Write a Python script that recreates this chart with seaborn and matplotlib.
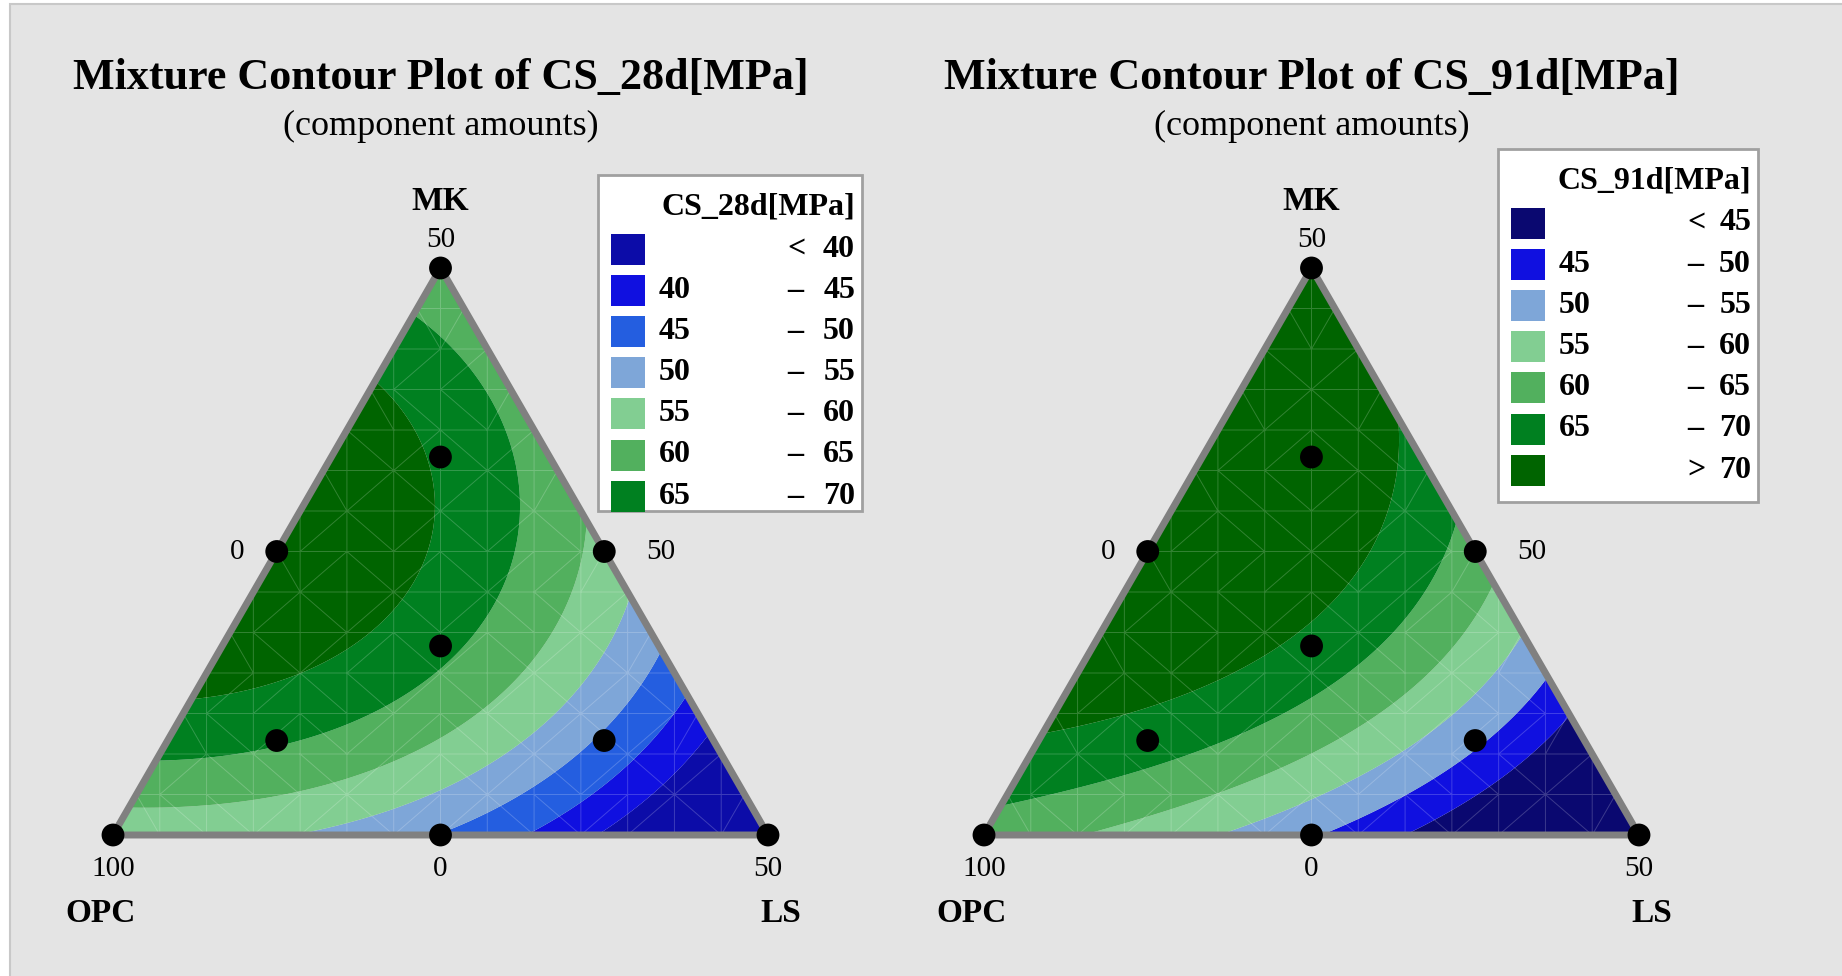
import numpy as np
import pandas as pd
import matplotlib
matplotlib.use("Agg")
import matplotlib.pyplot as plt
import matplotlib.tri as mtri
from matplotlib.patches import Rectangle, Polygon
import seaborn as sns

# design points, component amounts (%)
opc = [100, 50, 50, 75, 75, 50, 66.67, 83.33, 58.33, 58.33]
mk = [0, 50, 0, 25, 0, 25, 16.67, 8.33, 33.33, 8.33]
ls = [0, 0, 50, 0, 25, 25, 16.67, 8.33, 8.33, 33.33]

# responses at the design points
cs_28d = [57.0, 61.5, 24.0, 75.0, 50.3, 58.2, 66.5, 65.0, 69.5, 48.8]
cs_91d = [63.0, 70.6, 25.9, 76.8, 50.2, 62.6, 69.0, 67.9, 74.6, 50.8]

# points read along the contour boundaries (MK %, LS %, level)
iso_mk_28d = [40, 37.95, 33.9, 30.55, 25.85, 21.8, 19.1, 16.1, 14.4, 12.4, 11.55,
              45, 42.65, 39.3, 35.25, 29.9, 25.15, 20.45, 16.1, 12.4, 9.7, 8.25, 7.0, 6.5,
              27.25, 21.15, 17.75, 14.4, 11.05, 8.35, 6.0, 4.3, 3.15, 2.8, 2.6,
              21.15, 17.75, 14.4, 11.05, 8.0, 5.0, 2.3, 0,
              16.4, 13.4, 10.0, 7.0, 3.65, 0,
              12.25, 9.35, 6.0, 3.3, 0,
              9.0, 4.3, 1.6, 0]
iso_ls_28d = [0, 3.2, 7.2, 9.4, 11.6, 12.6, 12.0, 10.15, 7.35, 4.4, 0,
              0, 4.15, 8.15, 12.15, 15.7, 17.55, 18.6, 18.1, 16.0, 12.7, 8.35, 3.8, 0,
              22.75, 24.85, 25.25, 24.6, 23.3, 20.65, 17.55, 13.4, 9.05, 4.25, 0,
              28.85, 29.55, 29.2, 28.25, 26.45, 23.65, 19.4, 14.9,
              33.6, 33.7, 33.05, 31.6, 29.0, 25.5,
              37.75, 37.4, 35.75, 33.8, 32.1,
              41.0, 39.9, 37.95, 37.4]
iso_val_28d = [70] * 11 + [65] * 13 + [60] * 11 + [55] * 8 + [50] * 6 + [45] * 5 + [40] * 4

iso_mk_91d = [3.35, 8.5,
              10.6, 13.85, 17.65, 22.25, 27.75, 36.85,
              0, 0, 0, 0,
              16.67, 18.1]
iso_ls_91d = [0, 0,
              39.4, 36.15, 32.35, 27.75, 22.25, 13.15,
              7.25, 18, 26, 32.3,
              12.8, 15.3]
iso_val_91d = [65, 70, 45, 50, 55, 60, 65, 70, 60, 55, 50, 45, 70, 70]

levels_28d = [40, 45, 50, 55, 60, 65, 70]
levels_91d = [45, 50, 55, 60, 65, 70]
colors_28d = ['#0c0ca8', '#1010e0', '#245ee0', '#7ea6d8', '#82ce92', '#52b05e', '#008020', '#006400']
colors_91d = ['#0a0870', '#1010e0', '#7ea6d8', '#82ce92', '#52b05e', '#008020', '#006400']


def terms(o, m, l):
    # full cubic Scheffe model
    return np.column_stack([o, m, l, o * m, o * l, m * l,
                            o * m * (o - m), o * l * (o - l), m * l * (m - l), o * m * l])


def to_px(m, l, x0, y0, W=655.0, H=567.0):
    return x0 + (l + m / 2) * W, y0 - m * H


sns.set_style("white")
plt.rcParams['font.family'] = ['Liberation Serif', 'DejaVu Serif']
plt.rcParams['text.color'] = 'black'

fig = plt.figure(figsize=(18.42, 9.76), dpi=100, facecolor='white')
ax = fig.add_axes([0, 0, 1, 1])
ax.set_xlim(0, 1842)
ax.set_ylim(976, 0)
ax.axis('off')
ax.add_patch(Rectangle((10, 4), 1840, 980, facecolor='#e4e4e4', edgecolor='#c8c8c8', lw=1.5, zorder=0))

# fine grid inside the simplex
n = 160
gl, gm = [], []
for i in range(n + 1):
    for j in range(n + 1 - i):
        gl.append(i / n)
        gm.append(j / n)
gl = np.array(gl)
gm = np.array(gm)
go = 1 - gl - gm

pm = np.asarray(mk, float) / 50
pl = np.asarray(ls, float) / 50

panels = [
    (113, 835, cs_28d, iso_mk_28d, iso_ls_28d, iso_val_28d, levels_28d, colors_28d, 'CS_28d[MPa]',
     (598, 175, 264, 336), 249.5, 41.1, False),
    (984, 835, cs_91d, iso_mk_91d, iso_ls_91d, iso_val_91d, levels_91d, colors_91d, 'CS_91d[MPa]',
     (1498, 149, 260, 353), 223, 41.2, True),
]

for x0, y0, resp, imk, ils, ival, levels, colors, name, box, row0, dy, show_top in panels:
    om = np.concatenate([pm, np.asarray(imk) / 50])
    ol = np.concatenate([pl, np.asarray(ils) / 50])
    oo = 1 - om - ol
    yv = np.concatenate([resp, ival])
    coef, *_ = np.linalg.lstsq(terms(oo, om, ol), yv, rcond=None)
    z = terms(go, gm, gl) @ coef
    gx, gy = to_px(gm, gl, x0, y0)
    tri = mtri.Triangulation(gx, gy)
    ax.tricontourf(tri, z, levels=[-1000] + levels + [1000], colors=colors, antialiased=True, zorder=1)

    # faint mesh like the original renderer
    W, H = 655.0, 567.0
    mx, my = [], []
    for k in range(15):
        yy = k / 14
        xl, xr = yy / 2, 1 - yy / 2
        xs = [xl] + [q / 14 for q in range(15) if xl + 1e-6 < q / 14 < xr - 1e-6] + [xr]
        for xv in xs:
            mx.append(x0 + xv * W)
            my.append(y0 - yy * H)
    mesh = mtri.Triangulation(mx, my)
    ax.triplot(mesh, color='white', lw=0.7, alpha=0.2, zorder=2)

    # outline
    corners = [to_px(0, 0, x0, y0), to_px(0, 1, x0, y0), to_px(1, 0, x0, y0)]
    ax.add_patch(Polygon(corners, closed=True, fill=False, edgecolor='#808080', lw=5, zorder=3))

    # design points
    dx, dyy = to_px(pm, pl, x0, y0)
    df = pd.DataFrame({'x': dx, 'y': dyy})
    sns.scatterplot(data=df, x='x', y='y', color='black', s=270, edgecolor='none', ax=ax, zorder=5, legend=False)

    # titles and labels
    cx = x0 + 327.5
    ax.text(cx, 78, f'Mixture Contour Plot of {name}', ha='center', va='center', fontsize=31.8, fontweight='bold')
    ax.text(cx, 126, '(component amounts)', ha='center', va='center', fontsize=26)
    ax.text(cx, 201, 'MK', ha='center', va='center', fontsize=24, fontweight='bold')
    ax.text(cx, 240, '50', ha='center', va='center', fontsize=21)
    ax.text(x0 + 124, 552, '0', ha='center', va='center', fontsize=21)
    ax.text(x0 + 548, 552, '50', ha='center', va='center', fontsize=21)
    ax.text(x0, 869, '100', ha='center', va='center', fontsize=21)
    ax.text(cx, 869, '0', ha='center', va='center', fontsize=21)
    ax.text(x0 + 655, 869, '50', ha='center', va='center', fontsize=21)
    ax.text(x0 - 12, 914, 'OPC', ha='center', va='center', fontsize=24, fontweight='bold')
    ax.text(x0 + 668, 914, 'LS', ha='center', va='center', fontsize=24, fontweight='bold')

    # legend
    bx, by, bw, bh = box
    ax.add_patch(Rectangle((bx, by), bw, bh, facecolor='white', edgecolor='#a0a0a0', lw=2, zorder=6))
    right = bx + bw - 7
    ax.text(right, by + 32, name, ha='right', va='center', fontsize=23, fontweight='bold', zorder=7)
    rows = [('', '<', levels[0])]
    rows += [(levels[i], '–', levels[i + 1]) for i in range(len(levels) - 1)]
    if show_top:
        rows.append(('', '>', levels[-1]))
    for r, (lo, sym, hi) in enumerate(rows):
        yc = row0 + r * dy
        ax.add_patch(Rectangle((bx + 13, yc - 15.5), 34, 31, facecolor=colors[r], edgecolor='none', zorder=7))
        if lo != '':
            ax.text(bx + 61, yc, str(lo), ha='left', va='center', fontsize=23, fontweight='bold', zorder=8)
        ax.text(bx + 189, yc, sym, ha='left', va='center', fontsize=23, fontweight='bold', zorder=8)
        ax.text(right, yc, str(hi), ha='right', va='center', fontsize=23, fontweight='bold', zorder=8)

fig.savefig('out.png', dpi=100, facecolor='white')
